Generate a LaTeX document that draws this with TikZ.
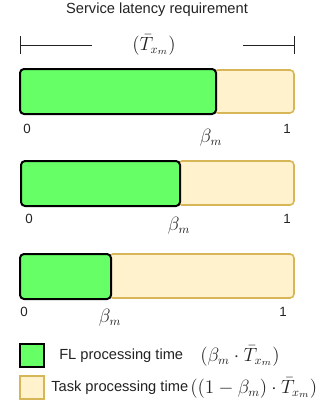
\documentclass[tikz,border=0pt]{standalone}
\usepackage{fontspec}
\setmainfont{Liberation Sans}
\usepackage{amsmath}
\definecolor{flgreen}{HTML}{66FF66}
\definecolor{taskfill}{HTML}{FFF2CC}
\definecolor{taskdraw}{HTML}{D6B656}
\definecolor{txt}{HTML}{222222}
\begin{document}
\begin{tikzpicture}[x=0.75pt,y=-0.75pt,
  lbl/.style={font=\fontsize{11}{13}\selectfont, text=txt, inner sep=0pt},
  digit/.style={font=\fontsize{10}{12}\selectfont, text=txt, inner sep=0pt},
  mth/.style={font=\fontsize{13.5}{16}\selectfont, text=txt, inner sep=0pt},
  flbar/.style={draw=black, fill=flgreen, line width=1.5pt, rounded corners=3pt},
  taskbar/.style={draw=taskdraw, fill=taskfill, line width=1.2pt, rounded corners=3pt},
  span/.style={draw=txt, line width=0.6pt}]
\useasboundingbox (0,0) rectangle (323,404);
% title
\node[lbl] (title) at (157,10) {Service latency requirement};
% bracket
\node[mth] (tlabel) at (154,45) {$(\bar{T}_{x_m})$};
\coordinate (bl) at (20,45);
\coordinate (bla) at (92,45);
\coordinate (bra) at (243,45);
\coordinate (br) at (294,45);
\draw[span] (bl) -- (bla);
\draw[span] (bra) -- (br);
\draw[span] ([yshift=-7]bl) -- ([yshift=7]bl);
\draw[span] ([yshift=-7]br) -- ([yshift=7]br);
% bar 1
\draw[taskbar] (214,70) rectangle (294,113);
\draw[flbar] (20,69) rectangle (216,114);
\node[digit] (z1) at (27,129) {0};
\node[mth] (b1) at (211,138) {$\beta_m$};
\node[digit] (o1) at (287,129) {1};
% bar 2
\draw[taskbar] (178,161) rectangle (294,205);
\draw[flbar] (21,161) rectangle (180,206);
\node[digit] (z2) at (29,219) {0};
\node[mth] (b2) at (179,226) {$\beta_m$};
\node[digit] (o2) at (287,219) {1};
% bar 3
\draw[taskbar] (109,254) rectangle (294,298);
\draw[flbar] (20,254) rectangle (111,299);
\node[digit] (z3) at (24,312) {0};
\node[mth] (b3) at (110,318) {$\beta_m$};
\node[digit] (o3) at (283,312) {1};
% legend
\draw[draw=black, fill=flgreen, line width=1.5pt] (20,344) rectangle (44,367);
\draw[draw=taskdraw, fill=taskfill, line width=1.5pt] (20,376) rectangle (44,399);
\node[lbl, anchor=west] (l1) at (59,356) {FL processing time};
\node[mth, anchor=west] (m1) at (200,356) {$(\beta_m\cdot\bar{T}_{x_m})$};
\node[lbl, anchor=west] (l2) at (51,388) {Task processing time};
\node[mth, anchor=west] (m2) at (190,388) {$((1-\beta_m)\cdot\bar{T}_{x_m})$};
\end{tikzpicture}
\end{document}
